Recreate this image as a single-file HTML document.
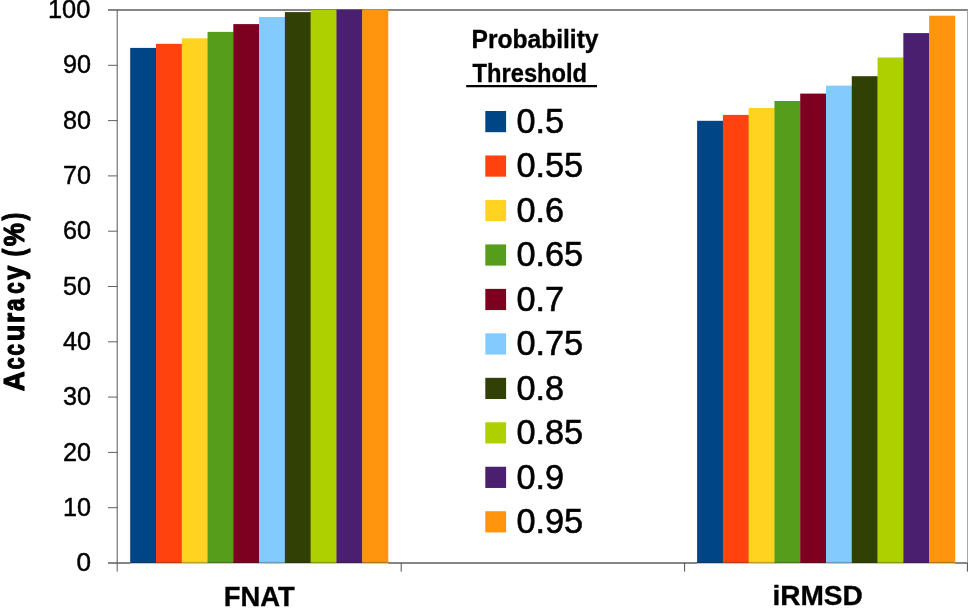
<!DOCTYPE html>
<html><head><meta charset="utf-8"><title>Accuracy vs Probability Threshold</title>
<style>
html,body{margin:0;padding:0;background:#fff;}
body{width:968px;height:608px;overflow:hidden;font-family:"Liberation Sans",sans-serif;}
svg{display:block;will-change:transform;transform:translateZ(0);}
text{font-family:"Liberation Sans",sans-serif;fill:#000;}
.b{font-weight:bold;}
</style></head><body>
<svg width="968" height="608" viewBox="0 0 968 608">
<rect x="0" y="0" width="968" height="608" fill="#ffffff"/>

<line x1="108" y1="9.95" x2="968" y2="9.95" stroke="#858585" stroke-width="2"/>
<line x1="108" y1="563" x2="968" y2="563" stroke="#868686" stroke-width="2"/>
<line x1="967.5" y1="10" x2="967.5" y2="563" stroke="#a6a6a6" stroke-width="1"/>
<rect x="130.20" y="47.9" width="26.08" height="515.10" fill="#004586"/>
<rect x="155.98" y="43.8" width="26.08" height="519.20" fill="#FF420E"/>
<rect x="181.76" y="38.3" width="26.08" height="524.70" fill="#FFD320"/>
<rect x="207.54" y="31.9" width="26.08" height="531.10" fill="#579D1C"/>
<rect x="233.32" y="24.1" width="26.08" height="538.90" fill="#7E0021"/>
<rect x="259.10" y="17.0" width="26.08" height="546.00" fill="#83CAFF"/>
<rect x="284.88" y="12.1" width="26.08" height="550.90" fill="#314004"/>
<rect x="310.66" y="10.0" width="26.08" height="553.00" fill="#AECF00"/>
<rect x="336.44" y="9.6" width="26.08" height="553.40" fill="#4B1F6F"/>
<rect x="362.22" y="9.6" width="26.08" height="553.40" fill="#FF950E"/>
<rect x="697.10" y="120.8" width="26.08" height="442.20" fill="#004586"/>
<rect x="722.88" y="114.9" width="26.08" height="448.10" fill="#FF420E"/>
<rect x="748.66" y="107.9" width="26.08" height="455.10" fill="#FFD320"/>
<rect x="774.44" y="101.0" width="26.08" height="462.00" fill="#579D1C"/>
<rect x="800.22" y="93.6" width="26.08" height="469.40" fill="#7E0021"/>
<rect x="826.00" y="85.6" width="26.08" height="477.40" fill="#83CAFF"/>
<rect x="851.78" y="76.2" width="26.08" height="486.80" fill="#314004"/>
<rect x="877.56" y="57.5" width="26.08" height="505.50" fill="#AECF00"/>
<rect x="903.34" y="33.1" width="26.08" height="529.90" fill="#4B1F6F"/>
<rect x="929.12" y="15.7" width="26.08" height="547.30" fill="#FF950E"/>
<line x1="117.2" y1="10" x2="117.2" y2="571.6" stroke="#585858" stroke-width="1.0"/>
<rect x="130.2" y="561.9" width="258.10" height="1.1" fill="#202020" opacity="0.28"/>
<rect x="130.2" y="563.0" width="258.10" height="1.2" fill="#ffffff" opacity="0.55"/>
<rect x="697.1" y="561.9" width="258.10" height="1.1" fill="#202020" opacity="0.28"/>
<rect x="697.1" y="563.0" width="258.10" height="1.2" fill="#ffffff" opacity="0.55"/>
<line x1="108" y1="507.70" x2="117.3" y2="507.70" stroke="#606060" stroke-width="1.0"/>
<line x1="108" y1="452.40" x2="117.3" y2="452.40" stroke="#606060" stroke-width="1.0"/>
<line x1="108" y1="397.10" x2="117.3" y2="397.10" stroke="#606060" stroke-width="1.0"/>
<line x1="108" y1="341.80" x2="117.3" y2="341.80" stroke="#606060" stroke-width="1.0"/>
<line x1="108" y1="286.50" x2="117.3" y2="286.50" stroke="#606060" stroke-width="1.0"/>
<line x1="108" y1="231.20" x2="117.3" y2="231.20" stroke="#606060" stroke-width="1.0"/>
<line x1="108" y1="175.90" x2="117.3" y2="175.90" stroke="#606060" stroke-width="1.0"/>
<line x1="108" y1="120.60" x2="117.3" y2="120.60" stroke="#606060" stroke-width="1.0"/>
<line x1="108" y1="65.30" x2="117.3" y2="65.30" stroke="#606060" stroke-width="1.0"/>
<line x1="401.2" y1="563" x2="401.2" y2="571.6" stroke="#454545" stroke-width="0.95"/>
<line x1="684.6" y1="563" x2="684.6" y2="571.6" stroke="#454545" stroke-width="0.95"/>
<line x1="967.4" y1="563" x2="967.4" y2="571.6" stroke="#454545" stroke-width="0.95"/>
<text x="76.43" y="571.10" font-size="26.2" textLength="14.57" lengthAdjust="spacingAndGlyphs" stroke="#000" stroke-width="0.45">0</text>
<text x="63.06" y="515.80" font-size="26.2" textLength="28.04" lengthAdjust="spacingAndGlyphs" stroke="#000" stroke-width="0.45">10</text>
<text x="63.06" y="460.50" font-size="26.2" textLength="28.04" lengthAdjust="spacingAndGlyphs" stroke="#000" stroke-width="0.45">20</text>
<text x="63.06" y="405.20" font-size="26.2" textLength="28.04" lengthAdjust="spacingAndGlyphs" stroke="#000" stroke-width="0.45">30</text>
<text x="63.06" y="349.90" font-size="26.2" textLength="28.04" lengthAdjust="spacingAndGlyphs" stroke="#000" stroke-width="0.45">40</text>
<text x="63.06" y="294.60" font-size="26.2" textLength="28.04" lengthAdjust="spacingAndGlyphs" stroke="#000" stroke-width="0.45">50</text>
<text x="63.06" y="239.30" font-size="26.2" textLength="28.04" lengthAdjust="spacingAndGlyphs" stroke="#000" stroke-width="0.45">60</text>
<text x="63.06" y="184.00" font-size="26.2" textLength="28.04" lengthAdjust="spacingAndGlyphs" stroke="#000" stroke-width="0.45">70</text>
<text x="63.06" y="128.70" font-size="26.2" textLength="28.04" lengthAdjust="spacingAndGlyphs" stroke="#000" stroke-width="0.45">80</text>
<text x="63.06" y="73.40" font-size="26.2" textLength="28.04" lengthAdjust="spacingAndGlyphs" stroke="#000" stroke-width="0.45">90</text>
<text x="47.88" y="18.10" font-size="26.2" textLength="42.42" lengthAdjust="spacingAndGlyphs" stroke="#000" stroke-width="0.45">100</text>
<g class="b" transform="translate(24.3,390.8) rotate(-90)" font-size="29.9" stroke="#000" stroke-width="1.1" stroke-linejoin="round" style="vector-effect:non-scaling-stroke">
<text transform="translate(-0.39,0) scale(0.9272,1)" x="0" y="0" vector-effect="non-scaling-stroke">A</text>
<text transform="translate(21.25,0) scale(0.7268,1)" x="0" y="0" vector-effect="non-scaling-stroke">c</text>
<text transform="translate(35.20,0) scale(0.6856,1)" x="0" y="0" vector-effect="non-scaling-stroke">c</text>
<text transform="translate(49.62,0) scale(0.9073,1)" x="0" y="0" vector-effect="non-scaling-stroke">u</text>
<text transform="translate(67.87,0) scale(0.8793,1)" x="0" y="0" vector-effect="non-scaling-stroke">r</text>
<text transform="translate(79.84,0) scale(0.7527,1)" x="0" y="0" vector-effect="non-scaling-stroke">a</text>
<text transform="translate(97.00,0) scale(0.6856,1)" x="0" y="0" vector-effect="non-scaling-stroke">c</text>
<text transform="translate(110.90,0) scale(0.8623,1)" x="0" y="0" vector-effect="non-scaling-stroke">y</text>
<text transform="translate(134.24,0) scale(0.7822,1)" x="0" y="0" vector-effect="non-scaling-stroke">(</text>
<text transform="translate(144.55,0) scale(0.8741,1)" x="0" y="0" vector-effect="non-scaling-stroke">%</text>
<text transform="translate(170.38,0) scale(0.7822,1)" x="0" y="0" vector-effect="non-scaling-stroke">)</text>
</g>
<text class="b" x="223.7" y="606" font-size="26.8" textLength="71.1" lengthAdjust="spacingAndGlyphs" stroke="#000" stroke-width="0.3">FNAT</text>
<text class="b" x="772.4" y="604.7" font-size="26.8" textLength="90.5" lengthAdjust="spacingAndGlyphs" stroke="#000" stroke-width="0.3">iRMSD</text>
<text class="b" x="471.5" y="47.5" font-size="25" textLength="127" lengthAdjust="spacingAndGlyphs" stroke="#000" stroke-width="0.35">Probability</text>
<text class="b" x="472.6" y="81.6" font-size="25" textLength="114.5" lengthAdjust="spacingAndGlyphs" stroke="#000" stroke-width="0.35">Threshold</text>
<line x1="466.2" y1="86.1" x2="597" y2="86.1" stroke="#000" stroke-width="2.2"/>
<rect x="485.3" y="111.00" width="20.8" height="21.2" fill="#004586"/>
<text x="516.4" y="132.90" font-size="35.0" textLength="47.6" lengthAdjust="spacingAndGlyphs" stroke="#000" stroke-width="0.6">0.5</text>
<rect x="485.3" y="155.47" width="20.8" height="21.2" fill="#FF420E"/>
<text x="516.4" y="177.37" font-size="35.0" textLength="66.8" lengthAdjust="spacingAndGlyphs" stroke="#000" stroke-width="0.6">0.55</text>
<rect x="485.3" y="199.94" width="20.8" height="21.2" fill="#FFD320"/>
<text x="516.4" y="221.84" font-size="35.0" textLength="47.6" lengthAdjust="spacingAndGlyphs" stroke="#000" stroke-width="0.6">0.6</text>
<rect x="485.3" y="244.41" width="20.8" height="21.2" fill="#579D1C"/>
<text x="516.4" y="266.31" font-size="35.0" textLength="66.8" lengthAdjust="spacingAndGlyphs" stroke="#000" stroke-width="0.6">0.65</text>
<rect x="485.3" y="288.88" width="20.8" height="21.2" fill="#7E0021"/>
<text x="516.4" y="310.78" font-size="35.0" textLength="47.6" lengthAdjust="spacingAndGlyphs" stroke="#000" stroke-width="0.6">0.7</text>
<rect x="485.3" y="333.35" width="20.8" height="21.2" fill="#83CAFF"/>
<text x="516.4" y="355.25" font-size="35.0" textLength="66.8" lengthAdjust="spacingAndGlyphs" stroke="#000" stroke-width="0.6">0.75</text>
<rect x="485.3" y="377.82" width="20.8" height="21.2" fill="#314004"/>
<text x="516.4" y="399.72" font-size="35.0" textLength="47.6" lengthAdjust="spacingAndGlyphs" stroke="#000" stroke-width="0.6">0.8</text>
<rect x="485.3" y="422.29" width="20.8" height="21.2" fill="#AECF00"/>
<text x="516.4" y="444.19" font-size="35.0" textLength="66.8" lengthAdjust="spacingAndGlyphs" stroke="#000" stroke-width="0.6">0.85</text>
<rect x="485.3" y="466.76" width="20.8" height="21.2" fill="#4B1F6F"/>
<text x="516.4" y="488.66" font-size="35.0" textLength="47.6" lengthAdjust="spacingAndGlyphs" stroke="#000" stroke-width="0.6">0.9</text>
<rect x="485.3" y="511.23" width="20.8" height="21.2" fill="#FF950E"/>
<text x="516.4" y="533.13" font-size="35.0" textLength="66.8" lengthAdjust="spacingAndGlyphs" stroke="#000" stroke-width="0.6">0.95</text>
</svg></body></html>
